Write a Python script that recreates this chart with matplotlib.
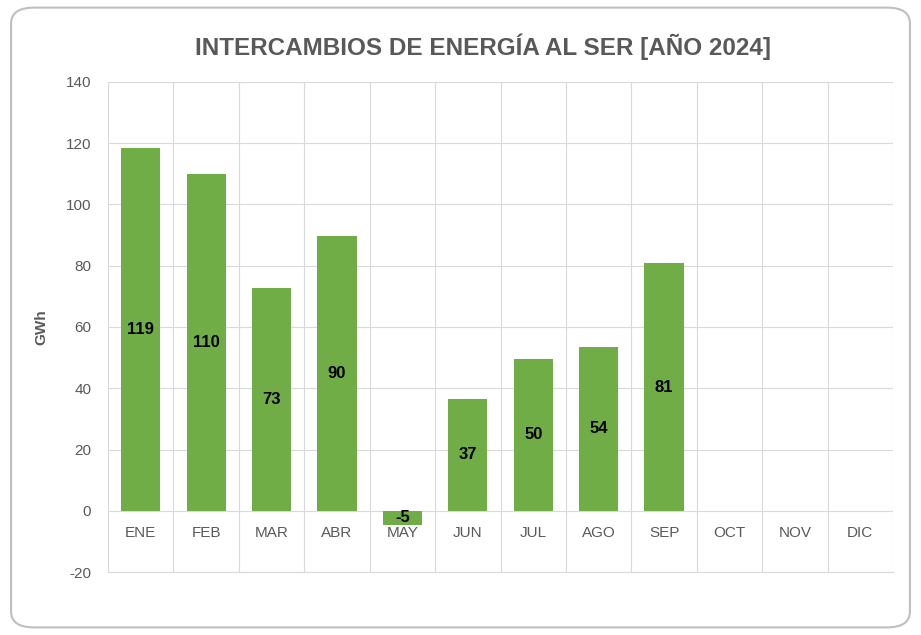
import matplotlib
matplotlib.use("Agg")
import matplotlib.pyplot as plt
from matplotlib.patches import FancyBboxPatch
import numpy as np

months = ["ENE", "FEB", "MAR", "ABR", "MAY", "JUN", "JUL", "AGO", "SEP", "OCT", "NOV", "DIC"]
values = [118.6, 109.8, 72.8, 89.6, -4.6, 36.6, 49.6, 53.5, 80.8]
title = "INTERCAMBIOS DE ENERGÍA AL SER [AÑO 2024]"
ylabel = "GWh"
yticks = [-20, 0, 20, 40, 60, 80, 100, 120, 140]

FONT = ['Liberation Sans Narrow', 'Liberation Sans', 'DejaVu Sans']
plt.rcParams['font.family'] = FONT

fig = plt.figure(figsize=(9.21, 6.35), dpi=100)
border = FancyBboxPatch((0.012, 0.012), 0.976, 0.976, boxstyle="round,pad=0,rounding_size=0.025",
                        transform=fig.transFigure, fill=False, edgecolor="#bfbfbf", linewidth=1.5)
fig.patches.append(border)

ax = fig.add_axes([0.1173, 0.0992, 0.8523, 0.7717])
x = np.arange(len(values))
ax.bar(x, values, width=0.6, color="#70AD47", zorder=3)
for xi, v in zip(x, values):
    ax.text(xi, v / 2, f"{round(v):d}", ha="center", va="center", fontsize=12,
            fontweight="bold", color="black", zorder=5)

ax.set_xlim(-0.5, len(months) - 0.5)
ax.set_ylim(-20, 140)
ax.set_yticks(yticks)
ax.set_yticklabels([str(t) for t in yticks], fontsize=11, color="#595959")
ax.set_xticks(np.arange(-0.5, len(months), 1.0))
ax.set_xticklabels([])
ax.tick_params(axis="both", length=0, pad=12)
ax.grid(True, color="#d9d9d9", linewidth=0.8, zorder=0)
for name, s in ax.spines.items():
    s.set_visible(name == "bottom")
    s.set_color("#d9d9d9")
    s.set_linewidth(0.8)

for i, m in enumerate(months):
    ax.annotate(m, (i, 0), xytext=(0, -16), textcoords="offset points", ha="center",
                va="center", fontsize=11, color="#595959", zorder=4)

fig.text(0.0445, 0.485, ylabel, rotation=90, ha="center", va="center", fontsize=11,
         fontweight="bold", color="#595959")
fig.text(0.524, 0.927, title, ha="center", va="center", fontsize=17.5, fontweight="bold",
         color="#595959")

fig.savefig("out.png", dpi=100)
